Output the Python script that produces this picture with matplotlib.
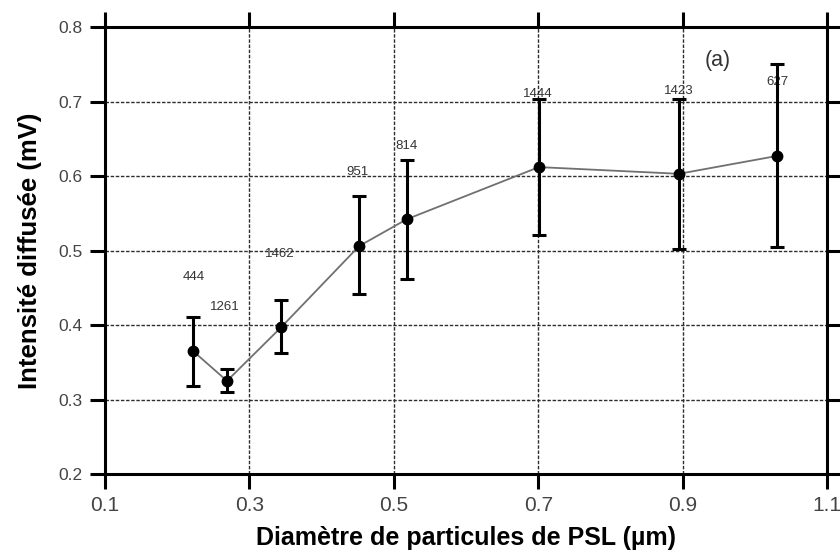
import matplotlib
matplotlib.use("Agg")
import matplotlib.pyplot as plt

plt.rcParams["font.family"] = ["Liberation Sans", "DejaVu Sans"]

# PSL particle diameters (µm) and mean scattered intensity (mV)
diametre = [0.222, 0.269, 0.344, 0.452, 0.518, 0.701, 0.895, 1.031]
intensite = [0.365, 0.325, 0.397, 0.506, 0.542, 0.612, 0.603, 0.627]
err_haut = [0.411, 0.341, 0.434, 0.573, 0.621, 0.703, 0.703, 0.750]
err_bas = [0.318, 0.310, 0.362, 0.442, 0.462, 0.521, 0.502, 0.505]

# Particle counts written above each point
comptes = ["444", "1261", "1462", "951", "814", "1444", "1423", "627"]
comptes_x = [0.223, 0.266, 0.342, 0.450, 0.517, 0.700, 0.895, 1.031]
comptes_y = [0.464, 0.424, 0.495, 0.605, 0.640, 0.710, 0.714, 0.726]

x_ticks = [0.1, 0.3, 0.5, 0.7, 0.9, 1.1]
y_ticks = [0.2, 0.3, 0.4, 0.5, 0.6, 0.7, 0.8]

fig = plt.figure(figsize=(8.4, 5.52), dpi=100)
ax = fig.add_axes([0.125, 0.1413, 0.8595, 0.8097])

ax.set_xlim(0.1, 1.1)
ax.set_ylim(0.2, 0.8)

yerr = [[m - b for m, b in zip(intensite, err_bas)],
        [h - m for m, h in zip(intensite, err_haut)]]

ax.plot(diametre, intensite, color="#707070", lw=1.3, zorder=3)
ax.errorbar(diametre, intensite, yerr=yerr, fmt="o", color="black",
            ms=7.5, elinewidth=2.2, capsize=4.8, capthick=2.2, zorder=4)

for t, x, y in zip(comptes, comptes_x, comptes_y):
    ax.text(x, y, t, ha="center", va="center", fontsize=9.5, color="#333333")

ax.text(0.948, 0.755, "(a)", ha="center", va="center", fontsize=15.5,
        color="#333333")

ax.set_xticks(x_ticks)
ax.set_yticks(y_ticks)
ax.set_xticklabels([f"{v:.1f}" for v in x_ticks])
ax.set_yticklabels([f"{v:.1f}" for v in y_ticks])

ax.grid(True, color="#2e2e2e", linestyle=(0, (2.5, 1.2)), linewidth=1.0)
ax.set_axisbelow(True)

for s in ax.spines.values():
    s.set_linewidth(2.2)

ax.tick_params(axis="x", which="both", direction="out", length=11, width=2.2,
               top=True, labelsize=15, labelcolor="#444444", pad=5)
ax.tick_params(axis="y", which="both", direction="out", length=11, width=2.2,
               right=True, labelsize=12.5, labelcolor="#444444", pad=5)

ax.set_xlabel("Diamètre de particules de PSL (µm)", fontsize=18,
              fontweight="bold", labelpad=8)
ax.set_ylabel("Intensité diffusée (mV)", fontsize=18.5, fontweight="bold",
              labelpad=12)

fig.savefig("out.png", dpi=100, facecolor="white")
